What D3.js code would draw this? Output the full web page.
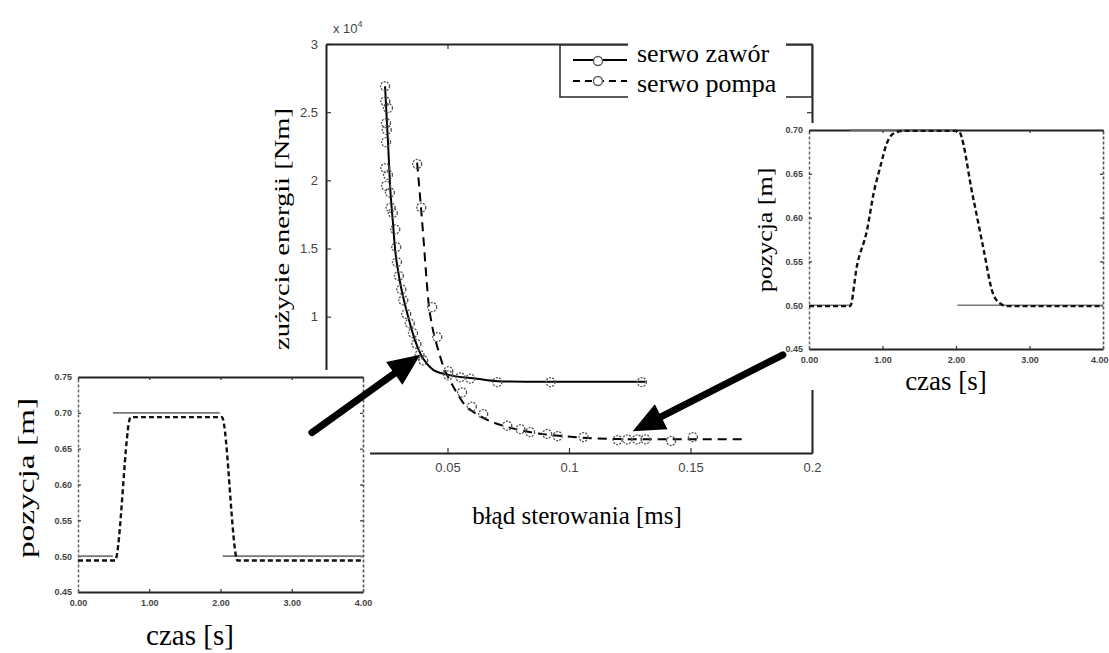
<!DOCTYPE html>
<html>
<head>
<meta charset="utf-8">
<script src="https://cdn.jsdelivr.net/npm/d3@7"></script>
<style>
  body { margin: 0; background: #fff; }
  .label { font-family: 'Liberation Serif', 'Times New Roman', serif; fill: #000; }
  .tick text { font-family: 'Liberation Sans', Arial, sans-serif; fill: #444; }
</style>
</head>
<body>
<svg id="chart" width="1109" height="653"></svg>
<script>
// main plot: energy use (x 10^4 Nm) vs control error
const zaworCurveX = [0.0243, 0.0250, 0.0256, 0.0264, 0.0275, 0.0284, 0.0300, 0.0318, 0.0338, 0.0362, 0.0388, 0.0415, 0.0441, 0.0500, 0.0620, 0.0705, 0.0900, 0.1100, 0.1315]
const zaworCurveY = [2.69, 2.45, 2.25, 1.95, 1.70, 1.50, 1.30, 1.14, 1.00, 0.85, 0.73, 0.655, 0.61, 0.575, 0.545, 0.527, 0.522, 0.522, 0.522]
const zaworPointsX = [0.0243, 0.0244, 0.0255, 0.0247, 0.0250, 0.0247, 0.0244, 0.0255, 0.0247, 0.0263, 0.0266, 0.0275, 0.0285, 0.0289, 0.0292, 0.0300, 0.0310, 0.0318, 0.0330, 0.0345, 0.0358, 0.0372, 0.0385, 0.0400, 0.0503, 0.0553, 0.0594, 0.0705, 0.0924, 0.1300]
const zaworPointsY = [2.69, 2.58, 2.53, 2.42, 2.37, 2.28, 2.09, 2.04, 1.96, 1.91, 1.80, 1.76, 1.64, 1.51, 1.40, 1.30, 1.20, 1.12, 1.02, 0.95, 0.88, 0.80, 0.72, 0.68, 0.57, 0.555, 0.545, 0.52, 0.52, 0.52]

const pompaCurveX = [0.0375, 0.0388, 0.0400, 0.0410, 0.0421, 0.0437, 0.0458, 0.0482, 0.0523, 0.0564, 0.0635, 0.0729, 0.0841, 0.1019, 0.1225, 0.1500, 0.1720]
const pompaCurveY = [2.13, 1.86, 1.60, 1.36, 1.12, 0.93, 0.78, 0.64, 0.49, 0.37, 0.27, 0.20, 0.153, 0.117, 0.102, 0.100, 0.100]
const pompaPointsX = [0.0375, 0.0392, 0.0437, 0.0458, 0.0503, 0.0560, 0.0600, 0.0647, 0.0746, 0.0800, 0.0840, 0.0910, 0.0953, 0.1060, 0.1200, 0.1240, 0.1280, 0.1315, 0.1420, 0.1510]
const pompaPointsY = [2.12, 1.80, 1.07, 0.85, 0.60, 0.445, 0.34, 0.285, 0.20, 0.175, 0.153, 0.14, 0.124, 0.117, 0.095, 0.10, 0.10, 0.10, 0.088, 0.117]

const mainXTicks = [0.05, 0.1, 0.15, 0.2]
const mainXTickLabels = ['0.05', '0.1', '0.15', '0.2']
const mainYTicks = [1, 1.5, 2, 2.5, 3]
const legendNames = ['serwo zawór', 'serwo pompa']

// insets: position vs time (setpoint solid, response dashed)
const czasTicks = [0, 1, 2, 3, 4]
const leftPosTicks = [0.45, 0.50, 0.55, 0.60, 0.65, 0.70, 0.75]
const rightPosTicks = [0.45, 0.50, 0.55, 0.60, 0.65, 0.70]

const leftZadanaT = [0, 0.49, null, 0.49, 1.99, null, 2.03, 4]
const leftZadanaY = [0.50, 0.50, null, 0.70, 0.70, null, 0.50, 0.50]
const leftOdpT = [0, 0.52, 0.74, 2.02, 2.24, 4]
const leftOdpY = [0.494, 0.494, 0.694, 0.694, 0.494, 0.494]

const rightZadanaT = [0, 0.56, null, 0.56, 2.02, null, 2.02, 4]
const rightZadanaY = [0.50, 0.50, null, 0.70, 0.70, null, 0.50, 0.50]
const rightOdpT = [0, 0.56, 0.65, 0.79, 0.88, 0.97, 1.06, 1.15, 1.28, 2.03, 2.23, 2.37, 2.50, 2.60, 2.69, 4]
const rightOdpY = [0.499, 0.499, 0.544, 0.586, 0.628, 0.658, 0.685, 0.696, 0.699, 0.699, 0.624, 0.566, 0.514, 0.502, 0.499, 0.499]

// arrows pointing from the insets to the curves (main plot coordinates)
const arrows = [
  { from: [-0.0058, 0.15], to: [0.0388, 0.72] },
  { from: [0.188, 0.72], to: [0.1262, 0.16] }
]

const zip = function (xs, ys) { return xs.map(function (v, i) { return { x: v, y: ys[i] } }) }

const svg = d3.select('#chart')

// ---------- main plot ----------
const x = d3.scaleLinear().domain([0, 0.2]).range([326, 812])
const y = d3.scaleLinear().domain([0, 3]).range([453, 44])

function frameAxes (g, xs, ys, opts) {
  const bottom = g.append('g')
    .attr('transform', 'translate(0,' + ys.range()[0] + ')')
    .call(d3.axisBottom(xs).tickValues(opts.xTicks).tickFormat(opts.xFormat)
      .tickSizeInner(-opts.tick).tickSizeOuter(0).tickPadding(opts.pad))
  const left = g.append('g')
    .attr('transform', 'translate(' + xs.range()[0] + ',0)')
    .call(d3.axisLeft(ys).tickValues(opts.yTicks).tickFormat(opts.yFormat)
      .tickSizeInner(-opts.tick).tickSizeOuter(0).tickPadding(opts.pad - 2))
  const top = g.append('g')
    .attr('transform', 'translate(0,' + ys.range()[1] + ')')
    .call(d3.axisTop(xs).tickValues(opts.xTicks).tickFormat('')
      .tickSizeInner(-opts.tick).tickSizeOuter(0))
  const right = g.append('g')
    .attr('transform', 'translate(' + xs.range()[1] + ',0)')
    .call(d3.axisRight(ys).tickValues(opts.yTicks).tickFormat('')
      .tickSizeInner(-opts.tick).tickSizeOuter(0))
  ;[bottom, left, top, right].forEach(function (a) {
    a.select('.domain').attr('stroke', '#222').attr('stroke-width', opts.frame)
    a.selectAll('.tick line').attr('stroke', '#333').attr('stroke-width', 1.2)
    a.selectAll('.tick text').attr('font-size', opts.font).attr('font-weight', opts.weight)
  })
  return { bottom: bottom, left: left, top: top, right: right }
}

const main = svg.append('g')
frameAxes(main, x, y, {
  xTicks: mainXTicks,
  xFormat: function (d, i) { return mainXTickLabels[i] },
  yTicks: mainYTicks,
  yFormat: d3.format('~g'),
  tick: 5,
  pad: 10,
  font: 13,
  weight: 'normal',
  frame: 2
})

main.append('text')
  .attr('x', 333)
  .attr('y', 33)
  .attr('font-family', 'Liberation Sans, Arial, sans-serif')
  .attr('font-size', 13)
  .attr('fill', '#444')
  .text('x 10')
  .append('tspan')
  .attr('dy', -6)
  .attr('font-size', 9)
  .text('4')

const mainLine = d3.line()
  .x(function (d) { return x(d.x) })
  .y(function (d) { return y(d.y) })
  .curve(d3.curveMonotoneX)

main.append('path')
  .datum(zip(zaworCurveX, zaworCurveY))
  .attr('fill', 'none')
  .attr('stroke', '#000')
  .attr('stroke-width', 2)
  .attr('d', mainLine)

main.append('path')
  .datum(zip(pompaCurveX, pompaCurveY))
  .attr('fill', 'none')
  .attr('stroke', '#000')
  .attr('stroke-width', 2)
  .attr('stroke-dasharray', '9,6')
  .attr('d', mainLine)

function markers (g, pts) {
  g.selectAll(null)
    .data(pts)
    .enter()
    .append('circle')
    .attr('cx', function (d) { return x(d.x) })
    .attr('cy', function (d) { return y(d.y) })
    .attr('r', 4.5)
    .attr('fill', 'none')
    .attr('stroke', '#555')
    .attr('stroke-width', 1.3)
    .attr('stroke-dasharray', '2,1.2')
}
markers(main.append('g'), zip(zaworPointsX, zaworPointsY))
markers(main.append('g'), zip(pompaPointsX, pompaPointsY))

// legend box
const legend = svg.append('g')
legend.append('rect')
  .attr('x', 560).attr('y', 45).attr('width', 252).attr('height', 52)
  .attr('fill', '#fff').attr('stroke', '#333').attr('stroke-width', 1.6)
legend.selectAll('line')
  .data(legendNames)
  .enter()
  .append('line')
  .attr('x1', 573).attr('x2', 627)
  .attr('y1', function (d, i) { return 60 + i * 21 })
  .attr('y2', function (d, i) { return 60 + i * 21 })
  .attr('stroke', '#000')
  .attr('stroke-width', 2)
  .attr('stroke-dasharray', function (d, i) { return i === 1 ? '7,5' : null })
legend.selectAll('circle')
  .data(legendNames)
  .enter()
  .append('circle')
  .attr('cx', 598)
  .attr('cy', function (d, i) { return 61 + i * 20 })
  .attr('r', 4.5)
  .attr('fill', '#fff')
  .attr('stroke', '#555')
  .attr('stroke-width', 1.3)
legend.append('rect')
  .attr('x', 628).attr('y', 28).attr('width', 158).attr('height', 72)
  .attr('fill', '#fff')
legend.selectAll('text')
  .data(legendNames)
  .enter()
  .append('text')
  .attr('class', 'label')
  .attr('x', 637)
  .attr('y', function (d, i) { return 62 + i * 30 })
  .attr('font-size', 26)
  .text(function (d) { return d })

// main axis titles
svg.append('text')
  .attr('class', 'label')
  .attr('transform', 'translate(289,229) rotate(-90) scale(1.36,1)')
  .attr('text-anchor', 'middle')
  .attr('font-size', 21)
  .text('zużycie energii [Nm]')

svg.append('text')
  .attr('class', 'label')
  .attr('x', 577)
  .attr('y', 524)
  .attr('text-anchor', 'middle')
  .attr('font-size', 25)
  .text('błąd sterowania [ms]')

// ---------- inset helper ----------
function inset (cfg) {
  const g = svg.append('g')
  g.append('rect')
    .attr('x', cfg.bg[0]).attr('y', cfg.bg[1])
    .attr('width', cfg.bg[2]).attr('height', cfg.bg[3])
    .attr('fill', '#fff')
  const xs = d3.scaleLinear().domain([0, 4]).range(cfg.xr)
  const ys = d3.scaleLinear().domain(cfg.yd).range(cfg.yr)
  const ax = frameAxes(g, xs, ys, {
    xTicks: czasTicks,
    xFormat: d3.format('.2f'),
    yTicks: cfg.yTicks,
    yFormat: d3.format('.2f'),
    tick: 3,
    pad: 8,
    font: 9,
    weight: 'bold',
    frame: 2.2
  })
  ax.left.select('.domain').attr('stroke', '#666').attr('stroke-width', 1.5).attr('stroke-dasharray', '3,2')
  ax.right.select('.domain').attr('stroke', '#555').attr('stroke-width', 1.6).attr('stroke-dasharray', '3,2')
  if (cfg.lastEnd) {
    // the last time label sits at the page edge
    ax.bottom.selectAll('.tick text')
      .filter(function (d) { return d === 4 })
      .attr('text-anchor', 'end')
      .attr('dx', 5)
  }

  const ln = d3.line()
    .defined(function (d) { return d.x !== null })
    .x(function (d) { return xs(d.x) })
    .y(function (d) { return ys(d.y) })

  g.append('path')
    .datum(zip(cfg.zadT, cfg.zadY))
    .attr('fill', 'none')
    .attr('stroke', '#777')
    .attr('stroke-width', 1.6)
    .attr('d', ln)
  g.append('path')
    .datum(zip(cfg.odpT, cfg.odpY))
    .attr('fill', 'none')
    .attr('stroke', '#111')
    .attr('stroke-width', 2.4)
    .attr('stroke-dasharray', '5,3')
    .attr('d', ln.curve(d3.curveMonotoneX))

  g.append('text')
    .attr('class', 'label')
    .attr('transform', 'translate(' + cfg.yl[0] + ',' + cfg.yl[1] + ') rotate(-90) scale(' + cfg.yl[3] + ',1)')
    .attr('text-anchor', 'middle')
    .attr('font-size', cfg.yl[2])
    .text('pozycja [m]')
  g.append('text')
    .attr('class', 'label')
    .attr('x', cfg.xl[0])
    .attr('y', cfg.xl[1])
    .attr('text-anchor', 'middle')
    .attr('font-size', cfg.xl[2])
    .text('czas [s]')
}

inset({
  bg: [745, 123, 364, 267],
  xr: [809, 1103],
  yd: [0.45, 0.70],
  yr: [349, 130],
  yTicks: rightPosTicks,
  zadT: rightZadanaT,
  zadY: rightZadanaY,
  odpT: rightOdpT,
  odpY: rightOdpY,
  lastEnd: true,
  yl: [772, 230, 22, 1.18],
  xl: [946, 390, 27]
})

inset({
  bg: [0, 370, 370, 283],
  xr: [78, 363],
  yd: [0.45, 0.75],
  yr: [592, 377],
  yTicks: leftPosTicks,
  zadT: leftZadanaT,
  zadY: leftZadanaY,
  odpT: leftOdpT,
  odpY: leftOdpY,
  yl: [34, 478, 24, 1.39],
  xl: [190, 645, 29]
})

// ---------- arrows ----------
const arrowG = svg.append('g')
arrows.forEach(function (a) {
  const x0 = x(a.from[0]); const y0 = y(a.from[1])
  const x1 = x(a.to[0]); const y1 = y(a.to[1])
  const len = Math.hypot(x1 - x0, y1 - y0)
  const ux = (x1 - x0) / len; const uy = (y1 - y0) / len
  const head = 32; const half = 14
  const bx = x1 - ux * head; const by = y1 - uy * head
  arrowG.append('line')
    .attr('x1', x0).attr('y1', y0).attr('x2', bx + ux * 2).attr('y2', by + uy * 2)
    .attr('stroke', '#000').attr('stroke-width', 7).attr('stroke-linecap', 'round')
  arrowG.append('path')
    .attr('d', 'M' + x1 + ',' + y1 +
      'L' + (bx - uy * half) + ',' + (by + ux * half) +
      'L' + (bx + uy * half) + ',' + (by - ux * half) + 'Z')
    .attr('fill', '#000')
})
</script>
</body>
</html>
